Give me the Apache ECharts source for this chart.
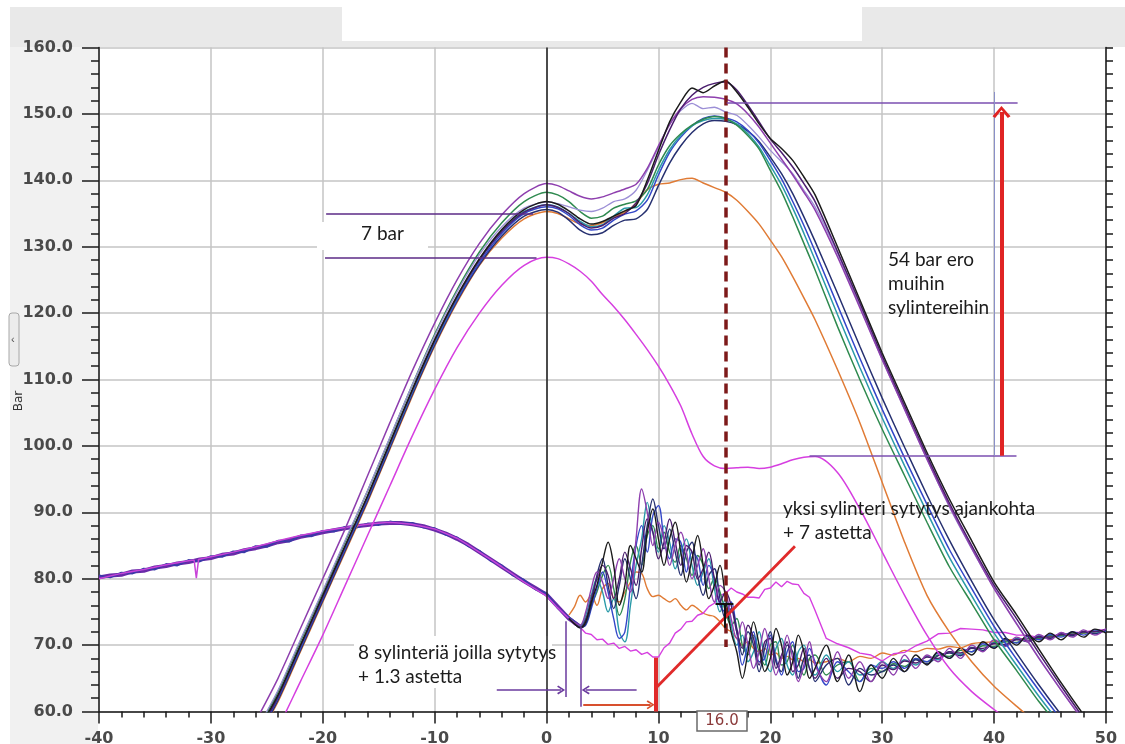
<!DOCTYPE html>
<html><head><meta charset="utf-8">
<script src="https://cdn.jsdelivr.net/npm/echarts/dist/echarts.min.js"></script>
<style>html,body{margin:0;padding:0;background:#fff}#c{width:1125px;height:744px}</style>
</head><body><div id="c"></div>
<script>
// ---------- axis ticks ----------
const xTicks = [-40, -30, -20, -10, 0, 10, 20, 30, 40, 50];
const yTicks = [60, 70, 80, 90, 100, 110, 120, 130, 140, 150, 160];

// ---------- high pressure traces (crank angle vs bar) ----------
const hiAngle = [-26,-24,-22,-20,-18,-16,-14,-12,-10,-8,-6,-4,-2,0,
  1,2,3,4,5,6,7,8,9,10,11,12,13,14,15,16,17,18,19,20,21,22,23,24,
  26,28,30,32,34,36,38,40,42,44,46,48,50];
const hiBlack = [56.5,62.5,70,77.5,85,92.5,100.5,108.5,116,122.6,128.2,132.6,135.6,136.8,
  136.4,135.4,134.2,133.4,133.8,134.6,135.4,136.2,140,144.5,148.8,151.8,153.9,153.2,154.2,155,153.3,151,148.5,146.3,144.8,143,140.5,137.8,
  130,122,114,106.5,99,92,85.7,79.5,74.6,69.4,64.3,59.5,55];
const hiDarkPurple = [56,62.2,69.8,77.2,84.8,92.3,100.3,108.3,115.8,122.4,128,132.3,135.2,136.3,
  135.9,135,133.6,132.8,133.2,134.3,135,136.6,139.5,143.8,147.6,150.8,152.8,154,154.6,154.8,153.6,151.3,148.8,146.2,144.2,142,139.5,136.8,
  129.3,121.5,113.5,106,98.5,91.4,85,79,74,68.8,63.8,59,54.5];
const hiPurple = [58.5,65,72.5,80,87.5,95.5,103.5,111.3,118.5,125,130.5,134.8,138,139.5,
  139.2,138.4,137.6,137.2,137.5,138.1,138.7,139.4,141.8,145.2,148.4,150.8,152.2,152.6,152.5,152.2,151.5,150,148,145.6,143.2,140.8,138.2,135.5,
  128.5,120.8,113,105.5,98,91,84.6,78.5,73.2,68,63.2,58.5,54];
const hiLavender = [57,63.2,70.8,78.2,85.8,93.3,101.3,109.2,116.6,123.2,128.8,133,135.8,136.7,
  136.5,136,135.5,135.3,135.8,136.8,137.2,138.5,141.5,145,148.5,150.5,151.6,150.8,151,150.3,149.8,148.3,146.5,144.5,142.8,141,138.5,136,
  129,121,113,105.5,98,90.8,84.5,78.6,73.3,68.1,63.2,58.6,54];
const hiGreen = [56.8,63,70.6,78,85.6,93.2,101.2,109.2,116.8,123.5,129.2,133.6,136.8,138.2,
  137.8,136.8,135.3,134.3,134.6,135.8,136.4,136.9,138.6,142.3,145.2,147,148.3,149.2,149.6,149.3,148.3,146.7,144.7,141.5,138.3,134.5,130.5,126.5,
  118,110,102.5,95.5,88.5,81.8,76.3,70.8,66.2,61.5,57.5,54,51];
const hiTeal = [56.2,62.3,69.8,77.3,84.8,92.3,100.2,108.2,115.7,122.3,128,132.4,135.3,136.3,
  136,135,133.8,133,133.3,134.6,135.8,135.9,137.8,141.5,144.6,146.8,148.2,149,149.3,149.2,148.5,147,145,142.2,139.3,135.8,132,128,
  119.8,111.8,104.2,97,90,83.2,77.4,71.8,67,62.3,58,54,51];
const hiBlue = [55.8,62,69.5,77,84.5,92,100,108,115.5,122,127.6,132,135,136,
  135.7,134.7,133.3,132.5,132.8,134,134.9,135.4,137,140.8,144.2,146.5,148.2,149.3,149.7,149.4,148.8,147.5,145.6,143,140.2,136.8,133.2,129.3,
  121.2,113.2,105.5,98.2,91.2,84.4,78.5,72.8,67.9,63.2,58.8,54.8,51];
const hiNavy = [55.5,61.7,69.2,76.7,84.2,91.7,99.7,107.7,115.2,121.8,127.3,131.6,134.6,135.6,
  135.2,134,132.5,131.8,132.1,133.2,134,134.2,135.6,139.2,142.6,145.2,147.2,148.5,149,148.9,148.4,147.4,145.8,143.5,141,138,134.5,130.8,
  123,115,107.2,99.8,92.6,85.8,79.6,73.8,68.8,64,59.5,55.3,51.5];
const hiOrange = [55.5,61.5,69,76.5,84,91.5,99.5,107.5,115,121.6,127.2,131.3,134.2,135.3,
  135,134.2,133.4,133.2,133.6,134.4,135.2,136.5,138.6,139.4,139.6,140.1,140.3,139.6,138.9,138.2,137,135.3,133.4,131,128.5,125.5,122.3,119,
  111.5,103.5,94.5,85.5,77.5,72,67.5,63.8,60.8,58,55.5,53,51];
const hiMagenta = [51,57.5,64.5,71.5,79,86.5,94,101.5,108.5,114.8,120,124.2,127.2,128.4,
  128.2,127.4,126.3,124.8,122.8,121,119,116.8,114.5,112,109.2,106,101.8,98.4,97,96.6,96.7,96.8,96.6,96.8,97.3,97.9,98.3,98.4,
  96,90.5,84,77.5,71.5,66.5,63,60.3,57.8,55,53,51,50];

// ---------- shared low trace before ignition ----------
const bandAngle = [-40,-39,-38,-37,-36,-35,-34,-33,-32,-31,-30,-29,-28,-27,-26,-25,-24,-23,-22,-21,
  -20,-19,-18,-17,-16,-15,-14,-13,-12,-11,-10,-9,-8,-7,-6,-5,-4,-3,-2,-1,0,1,2,3];
const bandPurple = [80.2,80.5,80.6,81.1,81.2,81.7,81.9,82.3,82.5,82.9,83.1,83.6,83.8,84.3,84.6,85.0,85.5,85.8,86.3,86.6,
  87.0,87.3,87.6,87.9,88.1,88.3,88.4,88.4,88.2,87.9,87.4,86.8,86.0,85.1,84.0,82.9,81.8,80.7,79.6,78.6,77.6,75.8,74.0,72.8];
const bandBlue = [80.5,80.2,80.9,80.8,81.5,81.4,82.2,82.0,82.8,82.6,83.4,83.3,84.1,84.0,84.9,84.8,85.7,85.6,86.5,86.4,
  87.2,87.1,87.8,87.7,88.3,88.1,88.6,88.3,88.4,87.7,87.6,86.6,86.2,84.9,84.2,82.7,82.0,80.5,79.8,78.4,77.8,75.6,74.2,72.9];
const bandMagAngle = [-40,-38,-36,-34,-32,-31.5,-31.3,-31.1,-30,-28,-26,-24,-22,-20,-18,-16,-14,-12,-10,-8,-6,-4,-2,0,1,2];
const bandMagenta = [80.0,80.8,81.4,82.1,82.7,82.8,80.1,82.9,83.3,84.0,84.8,85.7,86.5,87.2,87.7,88.2,88.5,88.2,87.5,86.1,84.0,81.8,79.5,77.4,75.6,74.0];

// ---------- low traces after ignition ----------
const loAngle = [2,2.5,3,3.5,4,4.5,5,5.5,6,6.5,7,7.5,8,8.5,9,9.5,10,10.5,11,11.5,12,12.5,13,13.5,14,14.5,15,15.5,16,16.5,
  17,17.5,18,18.5,19,19.5,20,20.5,21,21.5,22,22.5,23,23.5,24,
  25,26,27,28,29,30,31,32,33,34,35,36,37,38,39,40,41,42,43,44,45,46,47,48,49,50];
const loBlack = [74,73.2,72.6,73.5,76.5,79,82.5,85.5,82,76,79,85,83,81,87,90.5,86,82,86,88.5,84,79.5,83,86.5,82,77,79,82,77,72,
  69,65,69,73.5,70,66,68,72.5,70,65.5,67.5,71.5,69,65,66.5,
  70,64.5,68.5,63,67,65,68,66,68.5,67,69,68,69.5,68.5,70.5,69.5,71,70,71.5,70.5,71.8,70.8,72,71.2,72.4,71.8];
const loPurple = [74,73.4,73,75,78.5,81,79.5,77,80,83,80,78,86,93.5,90,85,88.5,86,82,85,87,84,80,82,84.5,80,76.5,79,78,74,
  71,73.5,70,66.5,69,72.5,69,65.5,68,71.5,68,64.5,67,70.5,67,
  64.5,69,65,67.5,64.5,67.5,65.5,68.5,66.5,68.5,67.5,69.5,68,70,69,70.8,69.8,71.2,70.5,71.6,70.8,71.9,71.2,72.3,71.5,72.5];
const loBlue = [74,73.2,72.7,73,75.5,78.5,81,78,74,71,72,79,85,88,84,89.5,91,86,83,86,85.5,81,84,83,79,82,80,76,75,76.5,
  72,67,70,72,67.5,68,71.5,68,65.5,69,70.5,66,66.5,69.5,67.5,
  64,67.5,66,64.5,67,66.5,67.5,66.5,68,67.5,68.8,68,69.5,69,70.2,69.6,70.8,70.3,71.3,70.8,71.6,71.2,72,71.5,72.3,72];
const loTeal = [74,73.3,72.8,74.5,77.5,80,78,75,77,72,70.5,76,82,86,91.5,87,84,88,85.5,81.5,84,86,82,79,81,83,78.5,75,77,73,
  70,71.5,67.5,69,72,68,66,69.5,71,67,65.5,69,70,66.5,65.5,
  68.5,66,67.5,65.5,66,67.5,66.5,67.8,67,68.3,67.8,69,68.6,69.7,69.2,70.4,70,71,70.6,71.4,71,71.8,71.4,72.1,71.8,72.4];
const loNavy = [74,73.2,72.6,73.2,76,80.5,83,79,75.5,79,83,80,77,82,88,92,88,84.5,87.5,84,80.5,84,85.5,80.5,77.5,80.5,81.5,77,74,75.5,
  72.5,68.5,72,70,66,69.5,72,67.5,66,70,69,65,68,68.5,64.5,
  67,68,64,66.5,65.5,66,67,66,67.8,67.2,68.4,68.8,68.4,69.5,69.2,70.3,69.9,70.9,70.5,71.3,71,71.7,71.4,72,71.7,72.3];
const loGreen = [74,73.4,72.9,74,76,78,80.5,82,78.5,74.5,77,82.5,85,82,86.5,88,84.5,87,84,82.5,85,83,80.5,83.5,82,78.5,80,78,75,73,
  74,70,68.5,71.5,69,67,70,70.5,67,67.5,70,67.5,65.5,68,68.5,
  65.5,67,67.5,64.5,66.5,66,67.2,66.8,67.9,67.5,68.5,68.3,69.2,69,69.9,69.8,70.5,70.4,71,71,71.4,71.4,71.8,71.8,72.1,72.2];
const loDarkPurple = [74,73.3,72.7,73.8,77,80,82,80.5,77,80,84,81.5,79,84.5,89,87,83,85.5,89,85.5,82,85,84,80,81.5,84,80,76.5,78,76,
  72,69.5,73,71,67,70.5,71,66.5,68.5,70.5,66,67,69.5,66.5,65,
  68,65,66.5,66,64.5,67,66.3,67.6,67.3,68.2,68,69,68.8,69.6,69.5,70.2,70.1,70.8,70.7,71.2,71.2,71.6,71.6,72,72,72.4];
const loOrange = [74.5,75.8,77.5,76.5,77.5,76,78.5,79.3,77,76.5,78,79.5,81,80.8,78.5,77.3,77.5,77,76.5,77,76,75.3,76,75.5,74.8,74.5,74.3,73.5,72.5,72,
  71,70,70.5,69.5,69,69.5,68.5,68.8,68,68.3,67.8,68,67.5,67.8,67.3,
  67.5,68,67.5,68.3,68,68.8,68.5,69.2,69,69.5,69.4,69.8,69.6,70.2,70.4,70.5,70.7,70.9,71,71.2,71.3,71.5,71.6,71.8,72,72.2];
const loMagenta = [74,73.1,72.7,71.8,71.6,70.8,70.9,70.1,70.3,69.5,69.8,69.1,69.3,68.6,68.9,68.2,68.2,69.6,70.3,71.8,72.4,73.5,73.6,74.5,74.8,75.8,76.3,77.5,77.8,78.6,
  78,77.7,77.2,77.2,77.1,78.4,78.6,79.5,78.8,79.6,79.2,79.1,77.8,77.2,75.2,
  71,70.2,69.6,68.8,68.5,67.6,68.7,68.9,69.9,70.6,71.7,71.8,72.5,72.4,72.3,71.9,71.9,71.5,71.5,71.1,71.5,71.5,71.9,71.9,72.3,72.3];

// ---------- annotation geometry (data space: [angle, bar]) ----------
const zeroLine = [[0, 60], [0, 160]];
const tdcDashed = [[16, 160], [16, 69.7]];
const sevenBarUpper = [[-19.7, 135.0], [-1.2, 135.0]];
const sevenBarLower = [[-19.8, 128.4], [-0.9, 128.4]];
const peakRefLine = [[16.1, 151.7], [42.1, 151.7]];
const plateauRefLine = [[23.5, 98.5], [42.0, 98.5]];
const guideVertical = [[40.0, 153.3], [40.0, 98.5]];
const diffArrow = [[40.66, 98.5], [40.66, 150.3]];
const ignitionA = [[1.75, 73.6], [1.75, 62.2]];
const ignitionB = [[3.1, 72.8], [3.1, 60.7]];
const arrowInA = [[-4.45, 63.25], [1.3, 63.25]];
const arrowInB = [[8.05, 63.25], [3.5, 63.25]];
const lateIgnition = [[9.75, 60], [9.75, 68.1]];
const lateArrow = [[3.28, 61.0], [9.3, 61.0]];
const pointerLine = [[9.75, 63.5], [22.2, 84.9]];
const cursorH = [[15.1, 76.3], [16.7, 76.3]];
const cursorV = [[15.9, 76.3], [15.9, 72.6]];

const chevron = 'path://M0,10 L10,0 L20,10 L17,11.5 L10,4 L3,11.5 Z';

function trace(angles, vals, color, width, z, smooth) {
  return {
    type: 'line', data: angles.map((a, i) => [a, vals[i]]),
    showSymbol: false, symbol: 'none', smooth: smooth || false,
    lineStyle: { color: color, width: width }, itemStyle: { color: color },
    silent: true, animation: false, z: z, clip: true
  };
}
function seg(pair, color, width, o) {
  o = o || {};
  return [
    { coord: pair[0], symbol: 'none', lineStyle: { color: color, width: width, type: o.dash || 'solid', opacity: 1 } },
    { coord: pair[1], symbol: o.end || 'none', symbolSize: o.size || 0, itemStyle: { color: color } }
  ];
}

const PURPLE = '#6a3a9e';
const annoData = [
  seg(zeroLine, '#1e1e1e', 1.5),
  seg(tdcDashed, '#7d1a1a', 3.5, { dash: [10, 6] }),
  seg(sevenBarUpper, '#5b2a86', 1.5),
  seg(sevenBarLower, '#5b2a86', 1.5),
  seg(peakRefLine, '#7b4fb0', 1.5),
  seg(plateauRefLine, '#7b4fb0', 1.5),
  seg(guideVertical, '#8a90c8', 1),
  seg(diffArrow, '#e02424', 4, { end: chevron, size: [18, 12] }),
  seg(ignitionA, PURPLE, 1.5),
  seg(ignitionB, PURPLE, 1.5),
  seg(arrowInA, PURPLE, 1.5, { end: chevron, size: [9, 8] }),
  seg(arrowInB, PURPLE, 1.5, { end: chevron, size: [9, 8] }),
  seg(lateIgnition, '#e02a2a', 4),
  seg(lateArrow, '#d8502e', 1.8, { end: chevron, size: [9, 8] }),
  seg(pointerLine, '#e02a2a', 2.8),
  seg(cursorH, '#111111', 2),
  seg(cursorV, '#111111', 2)
];

const TICKF = 'DejaVu Sans';
const NOTEF = 'Lato';
const axisLineStyle = { color: '#1a1a1a', width: 1.5 };
const gridLineStyle = { color: '#c4c4c4', width: 1.5 };

const series = [
  trace(bandAngle, bandPurple, '#6a2aa8', 4, 2),
  trace(bandAngle, bandBlue, '#3a3aa8', 2, 2),
  trace(bandMagAngle, bandMagenta, '#c843d8', 1.5, 2),
  trace(loAngle, loOrange, '#e07b35', 1.4, 3, 0.35),
  trace(loAngle, loMagenta, '#d63fe0', 1.4, 3),
  trace(loAngle, loGreen, '#2f8a4f', 1.4, 3, 0.35),
  trace(loAngle, loTeal, '#2a9aa8', 1.4, 3, 0.35),
  trace(loAngle, loBlue, '#3347c8', 1.4, 3, 0.35),
  trace(loAngle, loNavy, '#263070', 1.4, 3, 0.35),
  trace(loAngle, loDarkPurple, '#4a1d6e', 1.4, 3, 0.35),
  trace(loAngle, loPurple, '#8e3fae', 1.4, 3, 0.35),
  trace(loAngle, loBlack, '#1b1b1b', 1.4, 3, 0.35),
  trace(hiAngle, hiMagenta, '#d63fe0', 1.5, 4, 0.3),
  trace(hiAngle, hiOrange, '#e07b35', 1.5, 4, 0.25),
  trace(hiAngle, hiNavy, '#263070', 1.5, 4, 0.25),
  trace(hiAngle, hiBlue, '#3347c8', 1.5, 4, 0.25),
  trace(hiAngle, hiTeal, '#2a9aa8', 1.5, 4, 0.25),
  trace(hiAngle, hiGreen, '#2f8a4f', 1.5, 4, 0.25),
  trace(hiAngle, hiLavender, '#9c8fd6', 1.3, 4, 0.25),
  trace(hiAngle, hiPurple, '#8e3fae', 1.5, 4, 0.25),
  trace(hiAngle, hiDarkPurple, '#4a1d6e', 1.5, 4, 0.25),
  trace(hiAngle, hiBlack, '#1b1b1b', 1.5, 4, 0.25),
  {
    type: 'line', data: [], silent: true, animation: false, z: 6,
    markLine: { silent: true, animation: false, symbol: ['none', 'none'], label: { show: false },
      emphasis: { disabled: true }, data: annoData }
  }
];

function note(text, x, y, size) {
  return { type: 'text', x: x, y: y, z: 60, silent: true,
    style: { text: text, fontFamily: NOTEF, fontSize: size || 19, fill: '#1c1c1c',
      align: 'left', verticalAlign: 'middle', textAlign: 'left', textVerticalAlign: 'middle' } };
}

const option = {
  backgroundColor: '#ffffff',
  animation: false,
  grid: { left: 99, right: 19, top: 47.5, bottom: 32.5, containLabel: false, outerBoundsMode: 'none' },
  xAxis: {
    type: 'value', min: xTicks[0], max: xTicks[xTicks.length - 1], interval: 10,
    axisLine: { show: true, onZero: false, lineStyle: axisLineStyle },
    axisTick: { show: true, length: 12, lineStyle: axisLineStyle },
    minorTick: { show: true, splitNumber: 5, length: 6, lineStyle: axisLineStyle },
    splitLine: { show: true, lineStyle: gridLineStyle },
    axisLabel: { margin: 19, color: '#4a4a4a', fontFamily: TICKF, fontSize: 16, fontWeight: 'bold',
      formatter: v => String(v) }
  },
  yAxis: [
    {
      type: 'value', min: yTicks[0], max: yTicks[yTicks.length - 1], interval: 10, position: 'left',
      axisLine: { show: true, onZero: false, lineStyle: axisLineStyle },
      axisTick: { show: true, length: 17, lineStyle: axisLineStyle },
      minorTick: { show: true, splitNumber: 5, length: 8, lineStyle: axisLineStyle },
      splitLine: { show: true, lineStyle: gridLineStyle },
      axisLabel: { margin: 26, color: '#4a4a4a', fontFamily: TICKF, fontSize: 16, fontWeight: 'bold',
        formatter: v => v.toFixed(1) }
    },
    {
      type: 'value', min: yTicks[0], max: yTicks[yTicks.length - 1], interval: 10, position: 'right',
      axisLine: { show: true, onZero: false, lineStyle: axisLineStyle },
      axisTick: { show: true, length: 7, lineStyle: axisLineStyle },
      minorTick: { show: true, splitNumber: 5, length: 7, lineStyle: axisLineStyle },
      splitLine: { show: false }, axisLabel: { show: false }
    }
  ],
  series: series,
  graphic: [
    { type: 'rect', z: -20, silent: true, shape: { x: 10, y: 7, width: 1115, height: 40 }, style: { fill: '#e9e9e9' } },
    { type: 'rect', z: -19, silent: true, shape: { x: 342, y: 0, width: 520, height: 41 }, style: { fill: '#ffffff' } },
    { type: 'rect', z: -20, silent: true, shape: { x: 10, y: 47, width: 88, height: 697 }, style: { fill: '#f1f1f1' } },
    { type: 'rect', z: 10, silent: true, shape: { x: 9, y: 313, width: 10, height: 53, r: 3 },
      style: { fill: '#ececec', stroke: '#a8a8a8', lineWidth: 1 } },
    { type: 'text', z: 11, silent: true, x: 11, y: 340,
      style: { text: '\u2039', fontSize: 11, fill: '#555', align: 'left', verticalAlign: 'middle', textAlign: 'left', textVerticalAlign: 'middle' } },
    { type: 'text', z: 11, silent: true, x: 19, y: 401, rotation: Math.PI / 2,
      style: { text: 'Bar', fontFamily: TICKF, fontSize: 12, fill: '#333', align: 'center', verticalAlign: 'middle', textAlign: 'center', textVerticalAlign: 'middle' } },
    { type: 'rect', z: 1, silent: true, shape: { x: 317, y: 222, width: 111, height: 28 }, style: { fill: '#ffffff' } },
    { type: 'rect', z: 1, silent: true, shape: { x: 354, y: 636, width: 198, height: 52 }, style: { fill: '#ffffff' } },
    note('7 bar', 361, 234),
    note('54 bar ero', 888, 260),
    note('muihin', 888, 284),
    note('sylintereihin', 888, 308),
    note('yksi sylinteri sytytys ajankohta', 783, 509),
    note('+ 7 astetta', 783, 533),
    note('8 sylinteriä joilla sytytys', 358, 653),
    note('+ 1.3 astetta', 358, 677),
    { type: 'rect', z: 50, silent: true, shape: { x: 697, y: 711, width: 50, height: 20 },
      style: { fill: '#ffffff', stroke: '#6a6a6a', lineWidth: 1.5 } },
    { type: 'text', z: 51, silent: true, x: 722, y: 721.5,
      style: { text: '16.0', fontFamily: TICKF, fontSize: 15, fill: '#8a3a3a', align: 'center', verticalAlign: 'middle', textAlign: 'center', textVerticalAlign: 'middle' } }
  ]
};

const chart = echarts.init(document.getElementById('c'), null, { renderer: 'canvas' });
chart.setOption(option);
</script></body></html>
